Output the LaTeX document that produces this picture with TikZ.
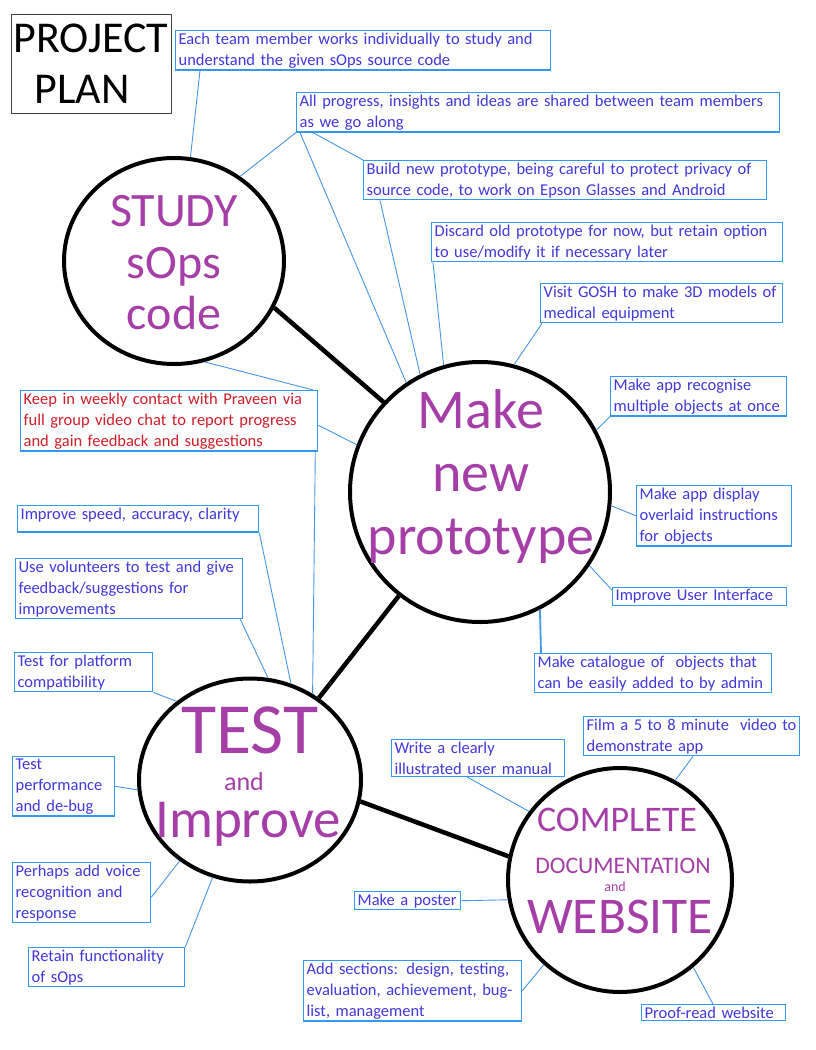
\documentclass[tikz,border=0pt]{standalone}
\usepackage{fontspec}
\setmainfont{Carlito}
\usepackage{xcolor}
\usetikzlibrary{shapes.geometric}
\definecolor{txtblue}{RGB}{64,56,216}
\definecolor{boxblue}{RGB}{51,153,240}
\definecolor{lineblue}{RGB}{70,150,230}
\definecolor{purp}{RGB}{166,62,168}
\definecolor{redtxt}{RGB}{205,30,40}

\begin{document}
\begin{tikzpicture}[x=1pt,y=-1pt,
	note/.style={draw=boxblue, line width=1.3pt, text=txtblue, align=left, anchor=north west,
		inner xsep=3pt, inner ysep=2pt, font=\fontsize{16.5}{21}\selectfont,
		execute at begin node={\hyphenpenalty=10000\relax}},
	link/.style={draw=lineblue, line width=0.9pt},
	phase/.style={draw=black, line width=4pt},
	phaselink/.style={draw=black, line width=4.5pt},
	bigtext/.style={text=purp, align=center, inner sep=0pt}]
\useasboundingbox (0,0) rectangle (816,1050);

\node[draw=black!75, line width=1pt, anchor=north west, align=left, inner xsep=2pt,
	text width=156pt, minimum height=99pt, font=\fontsize{44}{51}\selectfont] (title) at (11,14)
	{PROJECT\\\hspace*{21pt}PLAN};

\node[phase, ellipse, minimum width=220pt, minimum height=206pt] (study) at (174,261) {};
\node[phase, circle, minimum size=260pt] (make) at (480,492) {};
\node[phase, ellipse, minimum width=222pt, minimum height=203pt] (test) at (250,780) {};
\node[phase, circle, minimum size=224pt] (web) at (620,880) {};

\node[bigtext, font=\fontsize{48}{51.5}\selectfont] (studytext) at (174,263) {STUDY\\sOps\\code};
\node[bigtext, font=\fontsize{56}{63}\selectfont] (maketext) at (481,477) {Make\\new\\prototype};
\node[bigtext, anchor=base, font=\fontsize{72}{72}\selectfont] (testA) at (250,753) {TEST};
\node[bigtext, anchor=base, font=\fontsize{26}{26}\selectfont] (testB) at (244,790) {and};
\node[bigtext, anchor=base, font=\fontsize{55}{55}\selectfont] (testC) at (248,837) {Improve};
\node[bigtext, anchor=base, font=\fontsize{36}{36}\selectfont] (webA) at (617,831) {COMPLETE};
\node[bigtext, anchor=base, font=\fontsize{23.7}{24}\selectfont] (webB) at (623,873) {DOCUMENTATION};
\node[bigtext, anchor=base, font=\fontsize{14}{14}\selectfont] (webC) at (615,891) {and};
\node[bigtext, anchor=base, font=\fontsize{51.5}{52}\selectfont] (webD) at (620,933) {WEBSITE};

\draw[phaselink] (study.-25) -- (make.137);
\draw[phaselink] (make.232) -- (test.50);
\draw[phaselink] (test.-11) -- (web.168);

\node[note, text width=369pt] (each) at (175,30)
	{Each team member works individually to study and\\understand the given sOps source code};
\node[note, text width=477pt] (share) at (296,92)
	{All progress, insights and ideas are shared between team members\\as we go along};
\node[note, text width=397pt] (build) at (363,160)
	{Build new prototype, being careful to protect privacy of\\source code, to work on Epson Glasses and Android};
\node[note, text width=345pt] (discard) at (431,222)
	{Discard old prototype for now, but retain option\\to use/modify it if necessary later};
\node[note, text width=236pt] (gosh) at (540,283)
	{Visit GOSH to make 3D models of\\medical equipment};
\node[note, text width=170pt] (recog) at (610,376)
	{Make app recognise\\multiple objects at once};
\node[note, text width=291pt, text=redtxt] (weekly) at (20,390)
	{Keep in weekly contact with Praveen via\\full group video chat to report progress\\and gain feedback and suggestions};
\node[note, text width=149pt] (overlay) at (636,485)
	{Make app display\\overlaid instructions\\for objects};
\node[note, text width=235pt, text depth=11pt] (speed) at (17,505)
	{Improve speed, accuracy, clarity};
\node[note, text width=221pt] (volunteers) at (15,558)
	{Use volunteers to test and give\\feedback/suggestions for\\improvements};
\node[note, text width=168pt] (ui) at (612,587)
	{Improve User Interface};
\node[note, text width=231pt] (catalogue) at (534,653)
	{Make catalogue of \ objects that\\can be easily added to by admin};
\node[note, text width=132pt] (platform) at (14,652)
	{Test for platform\\compatibility};
\node[note, text width=210pt] (film) at (583,716)
	{Film a 5 to 8 minute \ video to\\demonstrate app};
\node[note, text width=167pt] (manual) at (391,739)
	{Write a clearly\\illustrated user manual};
\node[note, text width=96pt] (perf) at (12,756)
	{Test\\performance\\and de-bug};
\node[note, text width=132pt] (voice) at (12,862)
	{Perhaps add voice\\recognition and\\response};
\node[note, text width=100pt] (poster) at (354,891)
	{Make a poster};
\node[note, text width=150pt] (retain) at (28,947)
	{Retain functionality\\of sOps};
\node[note, text width=212pt] (sections) at (303,960)
	{Add sections: design, testing,\\evaluation, achievement, bug-\\list, management};
\node[note, text width=138pt] (proof) at (641,1004)
	{Proof-read website};

\draw[link] ([xshift=25pt]each.south west) -- (study.81);
\draw[link] (share.south west) -- (study.52);
\draw[link] ([xshift=4pt]share.south west) -- (make.124);
\draw[link] ([xshift=17pt]share.south west) -- (build.north west);
\draw[link] ([xshift=17pt]build.south west) -- (make.117);
\draw[link] ([xshift=2pt]discard.south west) -- (make.106);
\draw[link] ([xshift=2pt]gosh.south west) -- (make.75);
\draw[link] (recog.south west) -- (make.28);
\draw[link] (overlay.west) -- (make.-6);
\draw[link] ([yshift=-3pt]ui.north west) -- (make.-34);
\draw[link, line width=1.8pt] ([xshift=7pt]catalogue.north west) -- (make.-63);
\draw[link] ([yshift=-4.5pt]weekly.east) -- (make.159);
\draw[link] (study.-73) -- ([xshift=-5pt]weekly.north east);
\draw[link] ([xshift=-3pt]weekly.south east) -- (test.54);
\draw[link] (speed.south east) -- (test.67);
\draw[link] ([xshift=-3pt]volunteers.south east) -- (test.80);
\draw[link] (platform.south east) -- (test.133);
\draw[link] (perf.east) -- (test.185);
\draw[link] ([yshift=-4.5pt]voice.east) -- (test.229);
\draw[link] (retain.north east) -- (test.249);
\draw[link] ([xshift=76pt]manual.south west) -- (web.143);
\draw[link] ([xshift=110pt]film.south west) -- (web.61);
\draw[link] (poster.east) -- (web.190);
\draw[link] (sections.east) -- (web.228);
\draw[link] ([xshift=72pt]proof.north west) -- (web.310);
\end{tikzpicture}
\end{document}
